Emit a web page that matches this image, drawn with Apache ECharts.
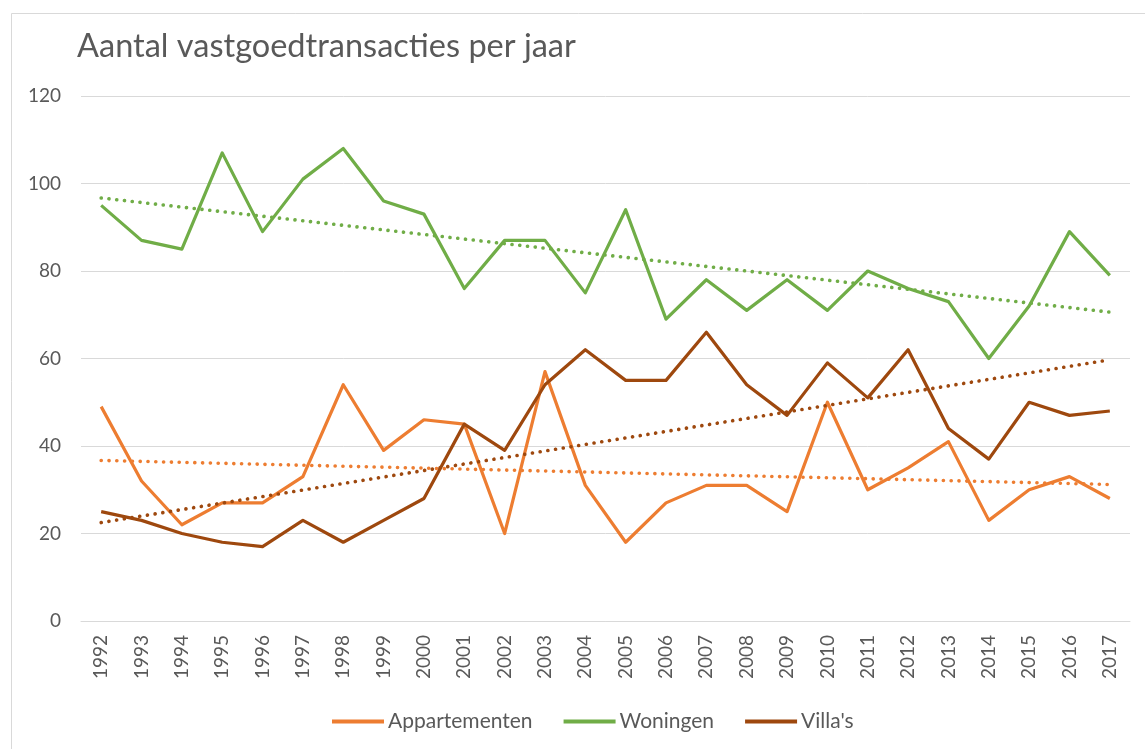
<!DOCTYPE html>
<html>
<head>
<meta charset="utf-8">
<script src="https://cdn.jsdelivr.net/npm/echarts@6/dist/echarts.min.js"></script>
<style>
html,body{margin:0;padding:0;background:#fff;}
#chart{width:1145px;height:749px;}
</style>
</head>
<body>
<div id="chart"></div>
<script>
const years = ['1992','1993','1994','1995','1996','1997','1998','1999','2000','2001','2002','2003','2004','2005','2006','2007','2008','2009','2010','2011','2012','2013','2014','2015','2016','2017'];
const appartementen = [49,32,22,27,27,33,54,39,46,45,20,57,31,18,27,31,31,25,50,30,35,41,23,30,33,28];
const woningen = [95,87,85,107,89,101,108,96,93,76,87,87,75,94,69,78,71,78,71,80,76,73,60,72,89,79];
const villas = [25,23,20,18,17,23,18,23,28,45,39,54,62,55,55,66,54,47,59,51,62,44,37,50,47,48];
// trendline end values (first year, last year)
const trendAppartementen = [36.7, 31.2];
const trendWoningen = [96.7, 70.6];
const trendVillas = [22.5, 59.7];
const yTicks = [0, 20, 40, 60, 80, 100, 120];

function trendData(ends) {
  const d = years.map(() => null);
  d[0] = ends[0];
  d[d.length - 1] = ends[1];
  return d;
}

const C_APP = '#ED7D31', C_WON = '#70AD47', C_VIL = '#9E480E';
const FONT = 'Lato';
const TXT = '#595959';

const chart = echarts.init(document.getElementById('chart'), null, {renderer: 'canvas'});

function lineSeries(name, data, color) {
  return {
    name: name, type: 'line', data: data,
    symbol: 'none', smooth: false,
    lineStyle: {color: color, width: 3.2, join: 'round'},
    itemStyle: {color: color},
    emphasis: {disabled: true}
  };
}
function trendSeries(name, ends, color) {
  return {
    name: name, type: 'line', data: trendData(ends),
    connectNulls: true, symbol: 'none', z: 3,
    lineStyle: {color: color, width: 3.6, type: [0.1, 7.7], cap: 'round'},
    itemStyle: {color: color},
    emphasis: {disabled: true}
  };
}

chart.setOption({
  animation: false,
  backgroundColor: '#fff',
  graphic: [{
    type: 'rect', left: 9, top: 11,
    shape: {width: 1150, height: 760},
    style: {fill: 'none', stroke: '#D9D9D9', lineWidth: 1}
  }],
  title: {
    text: 'Aantal vastgoedtransacties per jaar',
    left: 72, top: 25,
    textStyle: {fontFamily: FONT, fontSize: 32.5, fontWeight: 'normal', color: TXT}
  },
  legend: {
    data: ['Appartementen', 'Woningen', "Villa's"],
    left: 327, top: 706,
    itemWidth: 52, itemHeight: 4, itemGap: 31,
    icon: 'rect',
    textStyle: {fontFamily: FONT, fontSize: 21, color: TXT, padding: [0, 0, 0, -1]}
  },
  grid: {left: 81, right: 15, top: 96, bottom: 128, containLabel: false},
  xAxis: {
    type: 'category', data: years, boundaryGap: true,
    axisLine: {lineStyle: {color: '#D9D9D9', width: 1}},
    axisTick: {show: false},
    axisLabel: {rotate: 90, margin: 14, fontFamily: FONT, fontSize: 19, color: TXT, interval: 0}
  },
  yAxis: {
    type: 'value', min: yTicks[0], max: yTicks[yTicks.length - 1], interval: 20,
    axisLine: {show: false}, axisTick: {show: false},
    axisLabel: {margin: 20, fontFamily: FONT, fontSize: 19, color: TXT},
    splitLine: {lineStyle: {color: '#D9D9D9', width: 1}}
  },
  series: [
    lineSeries('Appartementen', appartementen, C_APP),
    lineSeries('Woningen', woningen, C_WON),
    lineSeries("Villa's", villas, C_VIL),
    trendSeries('Trend Appartementen', trendAppartementen, C_APP),
    trendSeries('Trend Woningen', trendWoningen, C_WON),
    trendSeries("Trend Villa's", trendVillas, C_VIL)
  ]
});
</script>
</body>
</html>
